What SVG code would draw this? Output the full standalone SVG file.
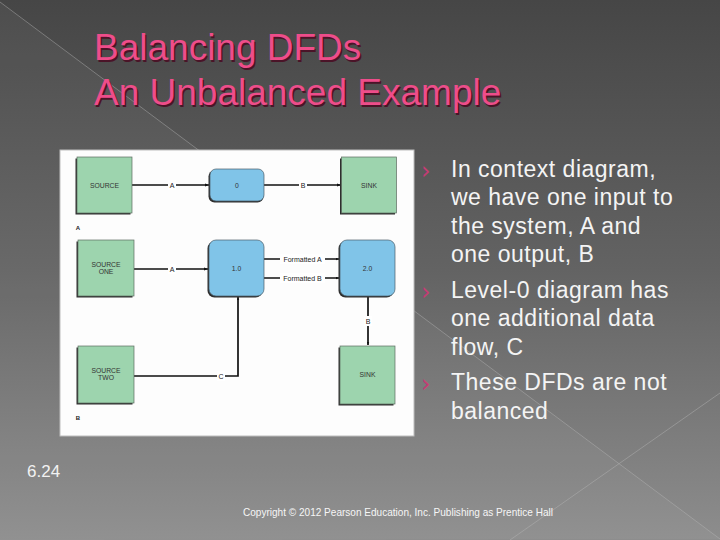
<svg xmlns="http://www.w3.org/2000/svg" width="720" height="540" viewBox="0 0 720 540">
<defs>
<linearGradient id="bg" x1="0" y1="0" x2="0" y2="1">
<stop offset="0" stop-color="#464646"/>
<stop offset="0.5" stop-color="#636363"/>
<stop offset="1" stop-color="#8d8d8d"/>
</linearGradient>
<marker id="arr" viewBox="0 0 10 10" refX="10" refY="5" markerWidth="4" markerHeight="4" orient="auto" markerUnits="userSpaceOnUse">
<path d="M0,1 L10,5 L0,9 z" fill="#111"/>
</marker>
<marker id="arrS" viewBox="0 0 10 10" refX="10" refY="5" markerWidth="3" markerHeight="3" orient="auto" markerUnits="userSpaceOnUse">
<path d="M0,1 L10,5 L0,9 z" fill="#111"/>
</marker>
</defs>
<style>
.title{font-family:"Liberation Sans",Arial,sans-serif;font-size:37px;fill:#ee4d8a;}
.tshadow{font-family:"Liberation Sans",Arial,sans-serif;font-size:37px;fill:#4a1428;}
.bul{font-family:"Liberation Sans",Arial,sans-serif;font-size:23px;fill:#f4f4f4;letter-spacing:0.5px;}
.chev{font-family:"DejaVu Sans",sans-serif;font-size:24px;fill:#c43c74;}
.ext rect.body{fill:#9dd4ae;stroke:#5d6b60;stroke-width:0.7;}
.proc rect.body{fill:#80c4e8;stroke:#4a5d68;stroke-width:0.7;}
.shadow{fill:#2e2e2e;}
.nt{font-family:"Liberation Sans",Arial,sans-serif;font-size:6.8px;fill:#333;text-anchor:middle;}
.lbl{font-family:"Liberation Sans",Arial,sans-serif;font-size:7px;fill:#222;text-anchor:middle;}
.gap{fill:#ffffff;}
.flow{fill:none;stroke:#111;stroke-width:1.7;}
.deco{stroke:#b8b8b8;stroke-width:0.8;opacity:0.55;fill:none;}
</style>
<rect x="0" y="0" width="720" height="540" fill="url(#bg)"/>
<polygon points="0,2 720,539 0,540" fill="#ffffff" opacity="0.04"/>
<line class="deco" x1="0" y1="2" x2="720" y2="539"/>
<line class="deco" x1="720" y1="393" x2="510" y2="540"/>

<g id="title">
<text class="tshadow" x="95.5" y="61.5">Balancing DFDs</text>
<text class="title" x="94" y="60">Balancing DFDs</text>
<text class="tshadow" x="95.5" y="106.5">An Unbalanced Example</text>
<text class="title" x="94" y="105">An Unbalanced Example</text>
</g>

<g id="figure-panel">
<rect x="60" y="150" width="354" height="286" fill="#fdfdfd" stroke="#bdbdbd" stroke-width="1"/>
<text class="lbl" x="78" y="230" style="font-weight:bold;font-size:6px;">A</text>
<text class="lbl" x="78" y="420" style="font-weight:bold;font-size:6px;">B</text>
</g>

<g id="connectors">
<line class="flow" x1="132" y1="185" x2="209" y2="185" marker-end="url(#arr)"/>
<rect class="gap" x="168" y="180" width="8" height="10"/>
<text class="lbl" x="172" y="187.5">A</text>
<line class="flow" x1="264" y1="185" x2="341" y2="185" marker-end="url(#arr)"/>
<rect class="gap" x="299" y="180" width="8" height="10"/>
<text class="lbl" x="303" y="187.5">B</text>

<line class="flow" x1="134" y1="269" x2="208" y2="269" marker-end="url(#arr)"/>
<rect class="gap" x="168" y="264" width="8" height="10"/>
<text class="lbl" x="172" y="271.5">A</text>

<line class="flow" x1="264" y1="259" x2="339" y2="259" marker-end="url(#arrS)"/>
<rect class="gap" x="280" y="254" width="45" height="10"/>
<text class="lbl" x="302.5" y="261.5">Formatted A</text>
<line class="flow" x1="264" y1="278" x2="339" y2="278" marker-end="url(#arrS)"/>
<rect class="gap" x="280" y="273" width="45" height="10"/>
<text class="lbl" x="302.5" y="280.5">Formatted B</text>

<line class="flow" x1="368" y1="296" x2="368" y2="345" marker-end="url(#arrS)"/>
<rect class="gap" x="364" y="316" width="8" height="10"/>
<text class="lbl" x="368" y="323.5">B</text>

<polyline class="flow" points="134,376 238,376 238,297" marker-end="url(#arrS)"/>
<rect class="gap" x="217" y="371" width="8" height="10"/>
<text class="lbl" x="221" y="378.5">C</text>
</g>

<g id="source" class="ext">
<rect class="shadow" x="75.5" y="158.5" width="55" height="56"/>
<rect class="body" x="77" y="157" width="55" height="56"/>
<text class="nt" x="104.5" y="187.5">SOURCE</text>
</g>
<g id="process-0" class="proc">
<rect class="shadow" x="208.5" y="170.5" width="55" height="32" rx="6"/>
<rect class="body" x="210" y="169" width="54" height="32" rx="6"/>
<text class="nt" x="237" y="187.5">0</text>
</g>
<g id="sink-top" class="ext">
<rect class="shadow" x="340" y="158.5" width="55" height="56"/>
<rect class="body" x="341.5" y="157" width="55" height="56"/>
<text class="nt" x="369" y="187.5">SINK</text>
</g>

<g id="source-one" class="ext">
<rect class="shadow" x="76.5" y="241.5" width="56" height="56"/>
<rect class="body" x="78" y="240" width="56" height="56"/>
<text class="nt" x="106" y="267">SOURCE</text>
<text class="nt" x="106" y="274">ONE</text>
</g>
<g id="process-1" class="proc">
<rect class="shadow" x="207.5" y="241.5" width="55" height="56" rx="7"/>
<rect class="body" x="209" y="240" width="55" height="56" rx="7"/>
<text class="nt" x="236.5" y="270.5">1.0</text>
</g>
<g id="process-2" class="proc">
<rect class="shadow" x="338.5" y="241.5" width="55" height="56" rx="7"/>
<rect class="body" x="340" y="240" width="55" height="56" rx="7"/>
<text class="nt" x="367.5" y="270.5">2.0</text>
</g>

<g id="source-two" class="ext">
<rect class="shadow" x="76.5" y="347.5" width="56" height="57"/>
<rect class="body" x="78" y="346" width="56" height="57"/>
<text class="nt" x="106" y="373">SOURCE</text>
<text class="nt" x="106" y="380">TWO</text>
</g>
<g id="sink-bottom" class="ext">
<rect class="shadow" x="338.5" y="347.5" width="55" height="58"/>
<rect class="body" x="340" y="346" width="55" height="58"/>
<text class="nt" x="367.5" y="377">SINK</text>
</g>

<g id="bullets">
<text class="chev" x="421" y="179">›</text>
<text class="bul" x="451" y="177">In context diagram,</text>
<text class="bul" x="451" y="205">we have one input to</text>
<text class="bul" x="451" y="233.5">the system, A and</text>
<text class="bul" x="451" y="261.5">one output, B</text>
<text class="chev" x="421" y="300">›</text>
<text class="bul" x="451" y="298">Level-0 diagram has</text>
<text class="bul" x="451" y="326">one additional data</text>
<text class="bul" x="451" y="354.5">flow, C</text>
<text class="chev" x="421" y="392">›</text>
<text class="bul" x="451" y="390">These DFDs are not</text>
<text class="bul" x="451" y="418.5">balanced</text>
</g>

<g id="footer">
<text x="27" y="477" style="font-family:'Liberation Sans',Arial,sans-serif;font-size:17px;fill:#f2f2f2;">6.24</text>
<text x="243" y="516" textLength="310" lengthAdjust="spacingAndGlyphs" style="font-family:'Liberation Sans',Arial,sans-serif;font-size:10.5px;fill:#f6f6f6;">Copyright © 2012 Pearson Education, Inc. Publishing as Prentice Hall</text>
</g>
</svg>
